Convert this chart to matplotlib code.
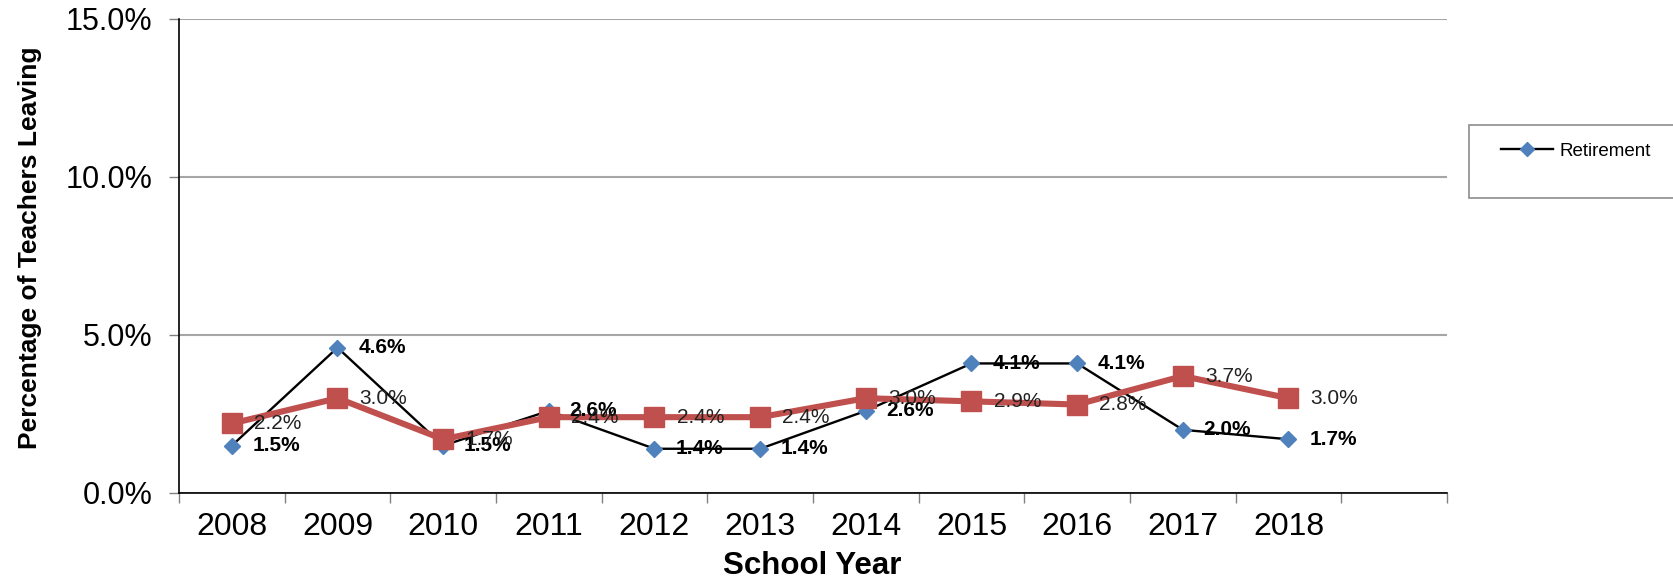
import matplotlib
matplotlib.use("Agg")
import matplotlib.pyplot as plt
from matplotlib.patches import Rectangle
from matplotlib.lines import Line2D
import numpy as np

plt.rcParams['font.family'] = ['Liberation Sans', 'DejaVu Sans']

years = ["2008", "2009", "2010", "2011", "2012", "2013", "2014", "2015", "2016", "2017", "2018"]
retirement = [1.5, 4.6, 1.5, 2.6, 1.4, 1.4, 2.6, 4.1, 4.1, 2.0, 1.7]
other = [2.2, 3.0, 1.7, 2.4, 2.4, 2.4, 3.0, 2.9, 2.8, 3.7, 3.0]
yticks = [0, 5, 10, 15]
n_slots = 12

W, H = 1674, 587
fig = plt.figure(figsize=(W / 100, H / 100), dpi=100)
ax = fig.add_axes([179 / W, 1 - 493 / H, (1447 - 179) / W, (493 - 19) / H])

x = np.arange(len(years)) + 0.5
blue = '#4F81BD'
red = '#C0504D'

ax.plot(x, retirement, color='black', lw=1.7, marker='D', ms=8,
        mfc=blue, mec=blue, zorder=3, label='Retirement')
ax.plot(x, other, color=red, lw=4.4, marker='s', ms=15,
        mfc=red, mec=red, zorder=4)

for xi, v in zip(x, retirement):
    ax.annotate(f"{v:.1f}%", (xi, v), xytext=(15, 0), textcoords='offset points',
                ha='left', va='center', fontsize=15, fontweight='bold',
                color='black', zorder=6)
for xi, v in zip(x, other):
    ax.annotate(f"{v:.1f}%", (xi, v), xytext=(16, 0), textcoords='offset points',
                ha='left', va='center', fontsize=15, color='#222222', zorder=6)

ax.set_xlim(0, n_slots)
ax.set_ylim(0, 15)
ax.set_yticks(yticks)
ax.set_yticklabels([f"{t:.1f}%" for t in yticks], fontsize=22)
ax.yaxis.grid(True, color='#A6A6A6', lw=1.5)
ax.set_axisbelow(True)

ax.set_xticks(np.arange(0, n_slots + 1))
ax.set_xticklabels([])
ax.set_xticks(x, minor=True)
ax.set_xticklabels(years, minor=True, fontsize=23)
ax.tick_params(axis='x', which='minor', length=0, pad=14)
ax.tick_params(axis='x', which='major', length=7, color='#808080', width=1)
ax.tick_params(axis='y', length=7, color='#808080', width=1, pad=12)

for s in ['top', 'right']:
    ax.spines[s].set_visible(False)
ax.spines['left'].set_color('black')
ax.spines['bottom'].set_color('black')
ax.spines['left'].set_linewidth(1.2)
ax.spines['bottom'].set_linewidth(1.2)

fig.text(812 / W, 1 - 566 / H, "School Year", ha='center', va='center',
         fontsize=22.5, fontweight='bold')
fig.text(30 / W, 1 - 248 / H, "Percentage of Teachers Leaving", ha='center', va='center',
         rotation=90, fontsize=19, fontweight='bold')

fig.patches.append(Rectangle((1469 / W, 1 - 198 / H), 0.2, 73 / H,
                             transform=fig.transFigure, facecolor='white',
                             edgecolor='#8C8C8C', lw=1.2, zorder=1))
handle = Line2D([], [], color='black', lw=1.7, marker='D', ms=7, mfc=blue, mec=blue)
fig.legend([handle], ['Retirement'], loc='center left',
           bbox_to_anchor=(1501 / W, 1 - 151 / H), frameon=False,
           fontsize=13.5, handlelength=2.8, handletextpad=0.3,
           borderpad=0, borderaxespad=0)

fig.savefig("out.png", dpi=100)
